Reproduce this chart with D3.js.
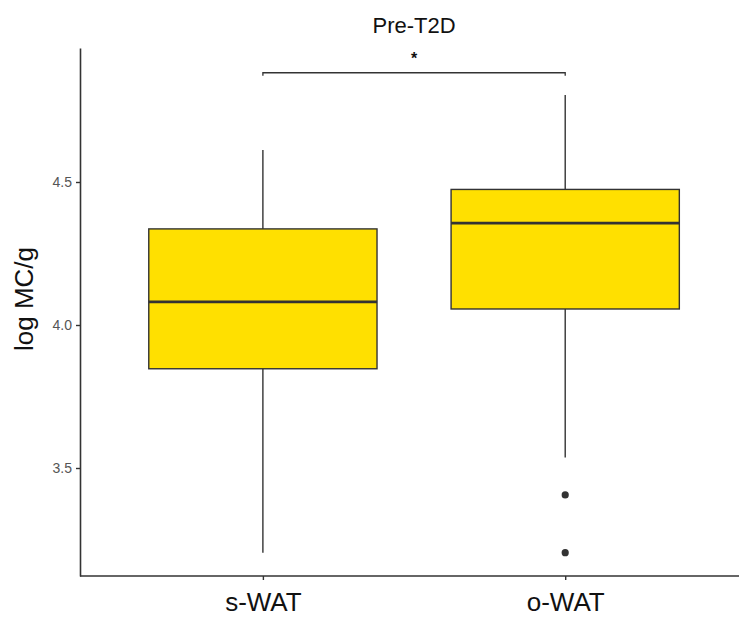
<!DOCTYPE html>
<html>
<head>
<meta charset="utf-8">
<script src="https://cdn.jsdelivr.net/npm/d3@7/dist/d3.min.js"></script>
<style>
  html, body { margin: 0; padding: 0; background: #fff; }
  svg { display: block; font-family: "Liberation Sans", Arial, Helvetica, sans-serif; }
</style>
</head>
<body>
<svg id="chart" width="739" height="620"></svg>
<script>
// Box-plot summary per tissue group (log MC/g)
const groups = ["s-WAT", "o-WAT"];
const whiskerLow = [3.204, 3.537];
const q1 = [3.847, 4.056];
const median = [4.081, 4.356];
const q3 = [4.336, 4.474];
const whiskerHigh = [4.612, 4.804];
const outliers = [[], [3.406, 3.204]];
const yTicks = [3.5, 4.0, 4.5];
const title = "Pre-T2D";
const yLabel = "log MC/g";
const signif = "*";
const bracketY = 4.882;

(function () {
  const svg = d3.select("#chart");
  const W = 739;
  const plotLeft = 80, plotTop = 48, plotBottom = 576;

  const x = d3.scalePoint().domain(groups).range([81.5, 746.6]).padding(0.6);
  const y = d3.scaleLinear().domain([3.1224, 4.9685]).range([plotBottom, plotTop]);
  const boxW = x.step() * 0.755;
  const ink = "#333333";

  const data = groups.map((g, i) => ({
    g, lo: whiskerLow[i], q1: q1[i], med: median[i], q3: q3[i], hi: whiskerHigh[i], out: outliers[i]
  }));

  // Whiskers
  const box = svg.append("g").selectAll("g").data(data).join("g");
  box.append("line")
    .attr("x1", d => x(d.g)).attr("x2", d => x(d.g))
    .attr("y1", d => y(d.hi)).attr("y2", d => y(d.q3))
    .attr("stroke", ink).attr("stroke-width", 1.4);
  box.append("line")
    .attr("x1", d => x(d.g)).attr("x2", d => x(d.g))
    .attr("y1", d => y(d.q1)).attr("y2", d => y(d.lo))
    .attr("stroke", ink).attr("stroke-width", 1.4);

  // Boxes
  box.append("rect")
    .attr("x", d => x(d.g) - boxW / 2)
    .attr("width", boxW)
    .attr("y", d => y(d.q3))
    .attr("height", d => y(d.q1) - y(d.q3))
    .attr("fill", "#FFE000")
    .attr("stroke", ink).attr("stroke-width", 1.4);

  // Medians
  box.append("line")
    .attr("x1", d => x(d.g) - boxW / 2).attr("x2", d => x(d.g) + boxW / 2)
    .attr("y1", d => y(d.med)).attr("y2", d => y(d.med))
    .attr("stroke", ink).attr("stroke-width", 2.8);

  // Outliers
  box.selectAll("circle").data(d => d.out.map(v => ({ g: d.g, v })))
    .join("circle")
    .attr("cx", d => x(d.g)).attr("cy", d => y(d.v))
    .attr("r", 3.6).attr("fill", ink);

  // Axes
  const yAxis = svg.append("g")
    .attr("transform", `translate(${plotLeft},0)`)
    .call(d3.axisLeft(y).tickValues(yTicks).tickFormat(d3.format(".1f")).tickSize(4).tickSizeOuter(0).tickPadding(4));
  yAxis.select(".domain").attr("stroke", ink).attr("stroke-width", 1.6);
  yAxis.selectAll(".tick line").attr("stroke", ink).attr("stroke-width", 1.4);
  yAxis.selectAll(".tick text").attr("fill", "#555").attr("font-size", 14)
    .attr("font-family", "'Liberation Sans', Arial, sans-serif");

  const xAxis = svg.append("g")
    .attr("transform", `translate(0,${plotBottom})`)
    .call(d3.axisBottom(x).tickSize(4).tickSizeOuter(0).tickPadding(13));
  xAxis.select(".domain").attr("stroke", ink).attr("stroke-width", 1.6)
    .attr("d", `M${plotLeft},0H${W}`);
  xAxis.selectAll(".tick line").attr("stroke", ink).attr("stroke-width", 1.4);
  xAxis.selectAll(".tick text").attr("fill", "#111").attr("font-size", 26)
    .attr("font-family", "'Liberation Sans', Arial, sans-serif");

  // Title
  svg.append("text")
    .attr("x", (x(groups[0]) + x(groups[1])) / 2).attr("y", 33)
    .attr("text-anchor", "middle").attr("font-size", 22).attr("fill", "#111")
    .text(title);

  // Y axis label
  svg.append("text")
    .attr("transform", `translate(33,299) rotate(-90)`)
    .attr("text-anchor", "middle").attr("font-size", 26).attr("fill", "#111")
    .text(yLabel);

  // Significance bracket
  const by = y(bracketY);
  const x0 = x(groups[0]), x1 = x(groups[1]);
  svg.append("path")
    .attr("d", `M${x0},${by + 3}V${by}H${x1}V${by + 3}`)
    .attr("fill", "none").attr("stroke", ink).attr("stroke-width", 1.3);
  svg.append("text")
    .attr("x", (x0 + x1) / 2).attr("y", 64)
    .attr("text-anchor", "middle").attr("font-size", 16).attr("font-weight", "bold").attr("fill", "#111")
    .text(signif);
})();
</script>
</body>
</html>
